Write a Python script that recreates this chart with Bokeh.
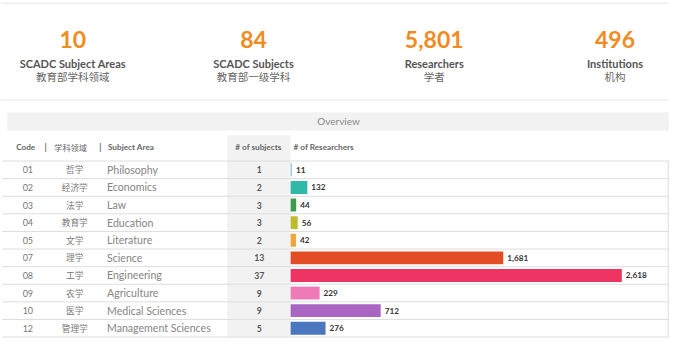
from bokeh.plotting import figure
from bokeh.models import Range1d, ColumnDataSource
from bokeh.core.properties import value
from bokeh.embed import file_html
from bokeh.resources import INLINE

# ---- data ----
kpi_values = ["10", "84", "5,801", "496"]
kpi_en = ["SCADC Subject Areas", "SCADC Subjects", "Researchers", "Institutions"]
kpi_zh = ["教育部学科领域", "教育部一级学科", "学者", "机构"]

codes = ["01", "02", "03", "04", "05", "07", "08", "09", "10", "12"]
zh_areas = ["哲学", "经济学", "法学", "教育学", "文学", "理学", "工学", "农学", "医学", "管理学"]
areas = ["Philosophy", "Economics", "Law", "Education", "Literature", "Science",
         "Engineering", "Agriculture", "Medical Sciences", "Management Sciences"]
n_subjects = [1, 2, 3, 3, 2, 13, 37, 9, 9, 5]
researchers = [11, 132, 44, 56, 42, 1681, 2618, 229, 712, 276]
bar_colors = ["#9cc9e0", "#2fb9a6", "#3e9a4c", "#bcbc2e", "#f0a43a", "#e34d26",
              "#ee3462", "#ef7ab8", "#a866c2", "#4b77bf"]

W, H = 676, 344          # figure size (fits the 692x360 window with 8px margin)
RW, RH = 692, 360        # layout coordinate space
FONT = value("Lato")
CJK = value("Noto Sans CJK SC")

p = figure(width=W, height=H, output_backend="svg", toolbar_location=None,
           x_range=Range1d(0, RW), y_range=Range1d(RH, 0),
           x_axis_type=None, y_axis_type=None, min_border=0,
           background_fill_color="white", border_fill_color="white")
p.outline_line_color = None
p.grid.visible = False

# bar scale: 0 researchers at x=297, max at x=636 (layout coords)
x0_bar, x1_bar = 297.0, 636.0
span = max(researchers) * RW / (x1_bar - x0_bar)
start = -x0_bar / RW * span
p.extra_x_ranges = {"res": Range1d(start, start + span)}

# ---- KPI header ----
kpi_x = [74, 259, 444, 629]
p.segment(x0=[0, 0], x1=[684, 684], y0=[3, 104], y1=[3, 104], line_color="#eeeeee", line_width=1.5)
p.text(x=kpi_x, y=[41] * 4, text=kpi_values, text_font=FONT, text_font_size="23px",
       text_font_style="bold", text_color="#f28a22", text_align="center", text_baseline="middle")
p.text(x=kpi_x, y=[66] * 4, text=kpi_en, text_font=FONT, text_font_size="11px",
       text_font_style="bold", text_color="#555555", text_align="center", text_baseline="middle")
p.text(x=kpi_x, y=[80] * 4, text=kpi_zh, text_font=CJK, text_font_size="10.5px",
       text_color="#666666", text_align="center", text_baseline="middle")

# ---- Overview band ----
p.quad(left=[7], right=[684], top=[117], bottom=[136], fill_color="#f2f2f2", line_color=None)
p.text(x=[346], y=[126.5], text=["Overview"], text_font=FONT, text_font_size="10px",
       text_color="#888888", text_align="center", text_baseline="middle")

# subjects column background
p.quad(left=[232], right=[297], top=[141], bottom=[352], fill_color="#f2f2f2", line_color=None)

# ---- header row ----
hy = 153.5
p.text(x=[16, 110], y=[hy, hy], text=["Code", "Subject Area"], text_font=FONT,
       text_font_size="8.2px", text_font_style="bold", text_color="#666666", text_baseline="middle")
p.text(x=[45, 101], y=[hy, hy], text=["|", "|"], text_font=FONT, text_font_size="8.5px",
       text_font_style="bold", text_color="#666666", text_baseline="middle")
p.text(x=[55], y=[hy], text=["学科领域"], text_font=CJK, text_font_size="8.2px",
       text_color="#666666", text_baseline="middle")
p.text(x=[264], y=[hy], text=["# of subjects"], text_font=FONT, text_font_size="8.2px",
       text_font_style="bold", text_color="#666666", text_align="center", text_baseline="middle")
p.text(x=[300], y=[hy], text=["# of Researchers"], text_font=FONT, text_font_size="8.2px",
       text_font_style="bold", text_color="#666666", text_baseline="middle")

# ---- rows ----
n = len(codes)
row_h = 18.42
row_y = [177.2 + row_h * i for i in range(n)]
sep_y = [168.0 + row_h * k for k in range(n + 1)]
p.segment(x0=[2] * len(sep_y), x1=[684] * len(sep_y), y0=sep_y, y1=sep_y,
          line_color="#dddddd", line_width=1)
p.segment(x0=[683.5], x1=[683.5], y0=[sep_y[0]], y1=[sep_y[-1]], line_color="#dddddd", line_width=1)

src = ColumnDataSource(dict(y=row_y, code=codes, zh=zh_areas, area=areas,
                            ns=[str(v) for v in n_subjects], res=researchers,
                            res_lbl=[f"{v:,}" for v in researchers], color=bar_colors,
                            zero=[0] * n))
p.text(x=28, y="y", text="code", source=src, text_font=FONT, text_font_size="9px",
       text_color="#777777", text_align="center", text_baseline="middle")
p.text(x=76, y="y", text="zh", source=src, text_font=CJK, text_font_size="8.7px",
       text_color="#777777", text_align="center", text_baseline="middle")
p.text(x=109, y="y", text="area", source=src, text_font=FONT, text_font_size="10.6px",
       text_color="#858585", text_baseline="middle")
p.text(x=265, y="y", text="ns", source=src, text_font=FONT, text_font_size="8.7px",
       text_font_style="bold", text_color="#555555", text_align="center", text_baseline="middle")

p.hbar(y="y", left="zero", right="res", height=13.5, fill_color="color", line_color=None,
       source=src, x_range_name="res")
p.text(x="res", y="y", text="res_lbl", source=src, x_range_name="res", x_offset=4,
       text_font=FONT, text_font_size="8.2px", text_font_style="bold", text_color="#333333",
       text_baseline="middle")

open("out.html", "w").write(file_html(p, INLINE))
